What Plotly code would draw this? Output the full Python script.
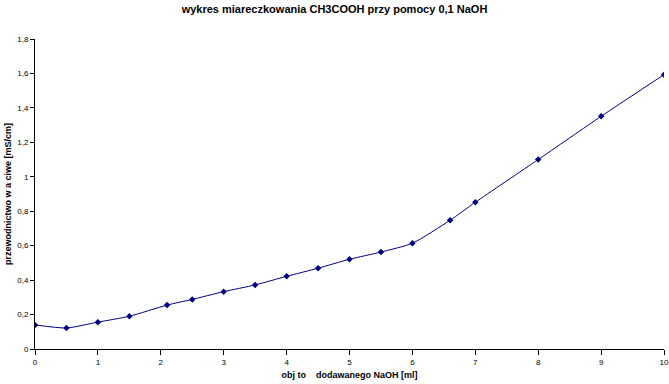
import plotly.graph_objects as go

volume_ml = [0, 0.5, 1, 1.5, 2.1, 2.5, 3, 3.5, 4, 4.5, 5, 5.5, 6, 6.6, 7, 8, 9, 10]
conductivity = [0.14, 0.122, 0.156, 0.19, 0.255, 0.288, 0.333, 0.372, 0.422, 0.469, 0.521,
                0.563, 0.614, 0.748, 0.852, 1.10, 1.351, 1.593]

y_tick_vals = [0, 0.2, 0.4, 0.6, 0.8, 1, 1.2, 1.4, 1.6, 1.8]
y_tick_text = ["0", "0,2", "0,4", "0,6", "0,8", "1", "1,2", "1,4", "1,6", "1,8"]
x_tick_vals = [0, 1, 2, 3, 4, 5, 6, 7, 8, 9, 10]

title_text = "wykres miareczkowania CH3COOH przy pomocy 0,1 NaOH"
x_title = "obj\u00a0to\u00a0\u00a0\u00a0\u00a0dodawanego NaOH [ml]"
y_title = "przewodnictwo w a ciwe [mS/cm]"

navy = "#000080"

fig = go.Figure()
fig.add_trace(go.Scatter(
    x=volume_ml, y=conductivity, mode="lines+markers",
    line=dict(color=navy, width=1, shape="spline", smoothing=0.6),
    marker=dict(symbol="diamond", size=5, color=navy),
    showlegend=False,
))

font = "Liberation Sans, Arial, sans-serif"
fig.update_layout(
    width=669, height=384,
    margin=dict(l=35, r=5, t=39, b=35),
    paper_bgcolor="white", plot_bgcolor="white",
    title=dict(text="<b>" + title_text + "</b>", x=0.5, xanchor="center",
               y=1 - 9 / 384, yanchor="middle",
               font=dict(family=font, size=11, color="black")),
    font=dict(family=font, size=8, color="black"),
    xaxis=dict(range=[0, 10], tickvals=x_tick_vals, showgrid=False, zeroline=False,
               showline=True, linecolor="black", linewidth=1,
               ticks="outside", ticklen=5, tickcolor="black", automargin=False,
               tickfont=dict(size=8),
               title=dict(text="<b>" + x_title + "</b>", font=dict(size=9), standoff=6)),
    yaxis=dict(range=[0, 1.8], tickvals=y_tick_vals, ticktext=y_tick_text,
               showgrid=False, zeroline=False,
               showline=True, linecolor="black", linewidth=1,
               ticks="outside", ticklen=4, tickcolor="black", automargin=False,
               tickfont=dict(size=8),
               title=dict(text="<b>" + y_title + "</b>", font=dict(size=9), standoff=4)),
)

fig.write_html("out.html", config={"displayModeBar": False},
               post_script="document.body.style.margin='0';")
